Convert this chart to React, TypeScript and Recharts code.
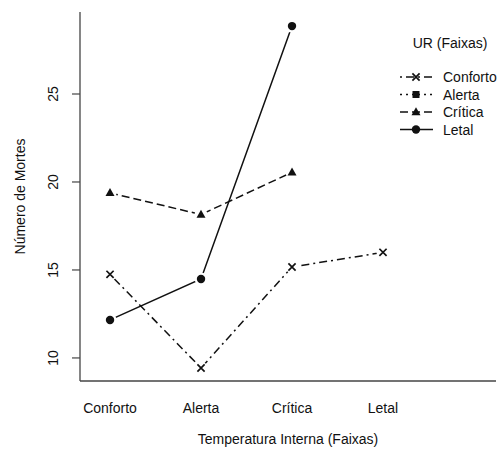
import React from 'react';
import { LineChart, Line, XAxis, YAxis, Legend, Label } from 'recharts';

// Categories on the x axis (Temperatura Interna)
const categories = ['Conforto', 'Alerta', 'Crítica', 'Letal'];
// Series (UR faixas) values per category
const confortoValues: (number | null)[] = [14.75, 9.43, 15.17, 16.0];
const alertaValues: (number | null)[] = [null, null, null, null];
const criticaValues: (number | null)[] = [19.38, 18.15, 20.55, null];
const letalValues: (number | null)[] = [12.16, 14.49, 28.86, null];
const yTicks = [10, 15, 20, 25];
const xTicks = [0, 1, 2, 3];

const series = [
  { key: 'Conforto', name: 'Conforto', values: confortoValues, dash: '2 4 8 4', shape: 'x' },
  { key: 'Alerta', name: 'Alerta', values: alertaValues, dash: '2 4', shape: 'square' },
  { key: 'Critica', name: 'Crítica', values: criticaValues, dash: '8 4', shape: 'triangle' },
  { key: 'Letal', name: 'Letal', values: letalValues, dash: undefined, shape: 'circle' },
];

const data = categories.map((c, i) => {
  const row: Record<string, any> = { idx: i, cat: c };
  series.forEach((s) => {
    row[s.key] = s.values[i];
  });
  return row;
});

const FONT = '"Liberation Sans", Arial, Helvetica, sans-serif';
const INK = '#111';
const BOX = '#444';

function Marker({ shape, cx, cy, halo }: { shape: string; cx: number; cy: number; halo?: boolean }) {
  let mark: React.ReactNode = null;
  if (shape === 'x') {
    const d = 3.6;
    mark = (
      <path
        d={`M${cx - d},${cy - d}L${cx + d},${cy + d}M${cx + d},${cy - d}L${cx - d},${cy + d}`}
        stroke={INK}
        strokeWidth={1.7}
        fill="none"
      />
    );
  } else if (shape === 'square') {
    mark = <rect x={cx - 3.5} y={cy - 3.5} width={7} height={7} fill={INK} />;
  } else if (shape === 'triangle') {
    mark = (
      <polygon
        points={`${cx},${cy - 4.8} ${cx + 4.5},${cy + 3.2} ${cx - 4.5},${cy + 3.2}`}
        fill={INK}
      />
    );
  } else {
    mark = <circle cx={cx} cy={cy} r={4.2} fill={INK} />;
  }
  return (
    <g>
      {halo ? <circle cx={cx} cy={cy} r={6.5} fill="#fff" /> : null}
      {mark}
    </g>
  );
}

const makeDot = (shape: string) => (props: any) => {
  const { cx, cy, index } = props;
  if (cx == null || cy == null || props.value == null || (Array.isArray(props.value) && props.value[1] == null)) {
    return <g key={`e-${shape}-${index}`} />;
  }
  return (
    <g key={`d-${shape}-${index}`}>
      <Marker shape={shape} cx={cx} cy={cy} halo />
    </g>
  );
};

const YTick = (props: any) => {
  const { x, y, payload } = props;
  const tx = x - 17;
  return (
    <text
      x={tx}
      y={y}
      transform={`rotate(-90, ${tx}, ${y})`}
      textAnchor="middle"
      dominantBaseline="central"
      fontFamily={FONT}
      fontSize={14}
      fill={INK}
    >
      {payload.value}
    </text>
  );
};

const XTick = (props: any) => {
  const { x, y, payload } = props;
  return (
    <text
      x={x}
      y={y + 27}
      textAnchor="middle"
      dominantBaseline="central"
      fontFamily={FONT}
      fontSize={14}
      fill={INK}
    >
      {categories[payload.value]}
    </text>
  );
};

const renderLegend = () => (
  <svg width={129} height={125} style={{ display: 'block', overflow: 'visible' }}>
    <text
      x={80}
      y={23}
      textAnchor="middle"
      dominantBaseline="central"
      fontFamily={FONT}
      fontSize={14}
      fill={INK}
    >
      UR (Faixas)
    </text>
    {series.map((s, i) => {
      const y = 57 + i * 17.5;
      return (
        <g key={s.key}>
          <line x1={30} x2={63} y1={y} y2={y} stroke={INK} strokeWidth={1.5} strokeDasharray={s.dash} />
          <Marker shape={s.shape} cx={46} cy={y} />
          <text
            x={73}
            y={y}
            dominantBaseline="central"
            fontFamily={FONT}
            fontSize={14}
            fill={INK}
          >
            {s.name}
          </text>
        </g>
      );
    })}
  </svg>
);

export default function App() {
  return (
    <div style={{ position: 'absolute', left: 0, top: 0, width: 499, height: 450, background: '#fff' }}>
      <LineChart width={499} height={450} data={data} margin={{ top: 12, right: 3, bottom: 0, left: 0 }}>
        <XAxis
          dataKey="idx"
          type="number"
          domain={[-0.33, 4.242]}
          allowDataOverflow
          ticks={xTicks}
          height={69}
          tickLine={false}
          tickSize={0}
          tickMargin={0}
          tick={<XTick />}
          axisLine={{ stroke: BOX, strokeWidth: 1.3 }}
        >
          <Label
            content={(p: any) => {
              const vb = p.viewBox || { x: 80, y: 381, width: 416, height: 69 };
              return (
                <text
                  x={vb.x + vb.width / 2}
                  y={vb.y + 58}
                  textAnchor="middle"
                  dominantBaseline="central"
                  fontFamily={FONT}
                  fontSize={14}
                  fill={INK}
                >
                  Temperatura Interna (Faixas)
                </text>
              );
            }}
          />
        </XAxis>
        <XAxis
          xAxisId="top"
          orientation="top"
          dataKey="idx"
          type="number"
          domain={[-0.33, 4.242]}
          allowDataOverflow
          height={0}
          tick={false}
          tickLine={false}
          axisLine={{ stroke: BOX, strokeWidth: 1.3 }}
        />
        <YAxis
          type="number"
          domain={[8.69, 29.66]}
          allowDataOverflow
          ticks={yTicks}
          width={80}
          tickSize={8}
          tickMargin={2}
          tickLine={{ stroke: BOX, strokeWidth: 1.2 }}
          tick={<YTick />}
          axisLine={{ stroke: BOX, strokeWidth: 1.3 }}
        >
          <Label
            content={(p: any) => {
              const vb = p.viewBox || { x: 0, y: 12, width: 80, height: 369 };
              const cx = 20;
              const cy = vb.y + vb.height / 2;
              return (
                <text
                  x={cx}
                  y={cy}
                  transform={`rotate(-90, ${cx}, ${cy})`}
                  textAnchor="middle"
                  dominantBaseline="central"
                  fontFamily={FONT}
                  fontSize={14}
                  fill={INK}
                >
                  Número de Mortes
                </text>
              );
            }}
          />
        </YAxis>
        <YAxis
          yAxisId="right"
          orientation="right"
          type="number"
          domain={[8.69, 29.66]}
          allowDataOverflow
          width={0}
          tick={false}
          tickLine={false}
          axisLine={{ stroke: BOX, strokeWidth: 1.3 }}
        />
        {series.map((s) => (
          <Line
            key={s.key}
            dataKey={s.key}
            name={s.name}
            type="linear"
            stroke={INK}
            strokeWidth={1.5}
            strokeDasharray={s.dash}
            dot={makeDot(s.shape)}
            activeDot={false}
            connectNulls={false}
            isAnimationActive={false}
            legendType="none"
          />
        ))}
        <Legend
          layout="horizontal"
          verticalAlign="middle"
          align="center"
          content={renderLegend}
          wrapperStyle={{ left: 370, top: 20, width: 129, height: 125 }}
        />
      </LineChart>
    </div>
  );
}
